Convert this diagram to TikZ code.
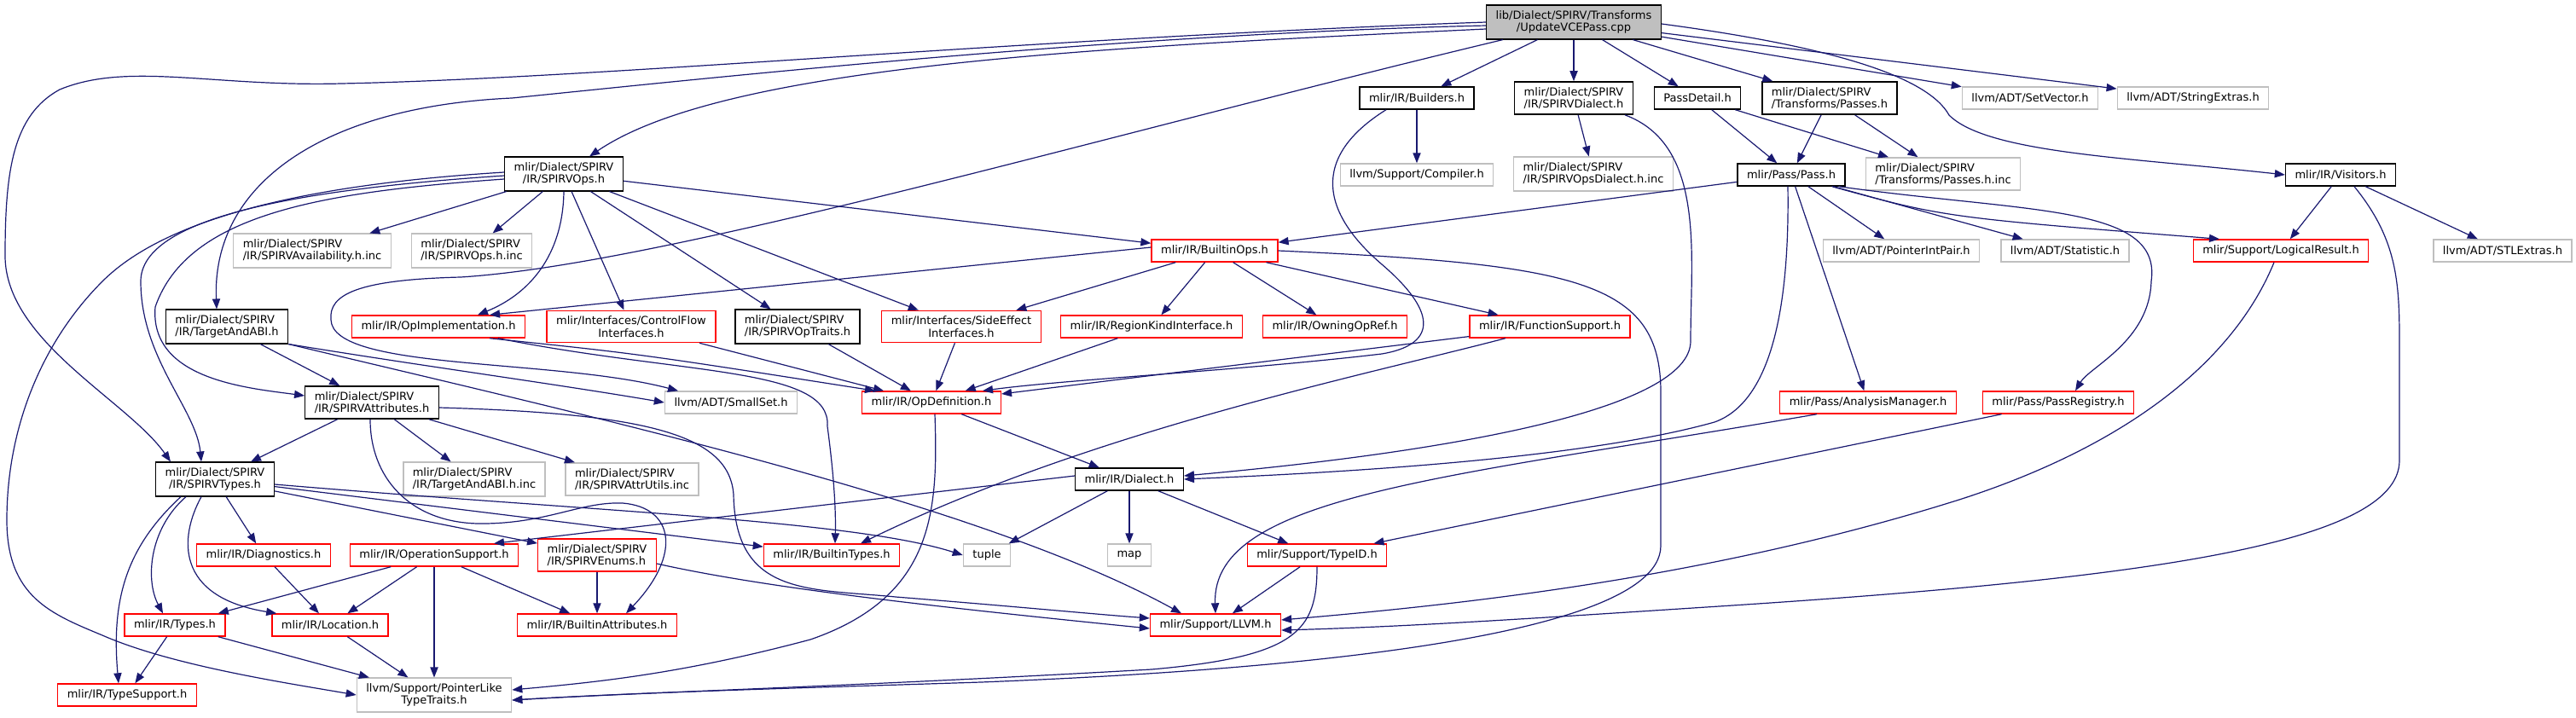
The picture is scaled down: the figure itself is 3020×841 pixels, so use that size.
\documentclass[tikz,border=0pt]{standalone}
\usepackage{fontspec}
\setmainfont{DejaVu Sans}
\usetikzlibrary{arrows.meta}
\definecolor{incblue}{RGB}{25,25,112}
\definecolor{nodoc}{RGB}{191,191,191}

\begin{document}
\begin{tikzpicture}[x=0.5pt, y=-0.5pt, >={Triangle[length=6pt,width=4.6pt]},
    every node/.style={font=\fontsize{6.5}{7.15}\selectfont, inner xsep=5.5pt, inner ysep=3.2pt,
      minimum height=13pt, align=left, fill=white, line width=0.7pt},
    hdr/.style={draw=black},
    trunc/.style={draw=red},
    undoc/.style={draw=nodoc},
    inc/.style={->, draw=incblue, line width=0.6pt}]
  \useasboundingbox (0,0) rectangle (3020,841);

  \node[hdr, fill=nodoc, align=center] (root) at (1845,26) {lib/Dialect/SPIRV/Transforms\\/UpdateVCEPass.cpp};

  \node[hdr] (builders) at (1661,115) {mlir/IR/Builders.h};
  \node[hdr] (spvdialect) at (1845,115) {mlir/Dialect/SPIRV\\/IR/SPIRVDialect.h};
  \node[hdr] (passdetail) at (1990,115) {PassDetail.h};
  \node[hdr] (passes) at (2145,115) {mlir/Dialect/SPIRV\\/Transforms/Passes.h};
  \node[undoc] (setvector) at (2380,115) {llvm/ADT/SetVector.h};
  \node[undoc] (strextras) at (2571,115) {llvm/ADT/StringExtras.h};

  \node[hdr, align=center] (spvops) at (661,204) {mlir/Dialect/SPIRV\\/IR/SPIRVOps.h};
  \node[undoc] (compiler) at (1661,205) {llvm/Support/Compiler.h};
  \node[undoc] (opsdialinc) at (1868,204) {mlir/Dialect/SPIRV\\/IR/SPIRVOpsDialect.h.inc};
  \node[hdr] (pass) at (2100,205) {mlir/Pass/Pass.h};
  \node[undoc] (passesinc) at (2278,204) {mlir/Dialect/SPIRV\\/Transforms/Passes.h.inc};
  \node[hdr] (visitors) at (2744,205) {mlir/IR/Visitors.h};

  \node[undoc] (availinc) at (366,294) {mlir/Dialect/SPIRV\\/IR/SPIRVAvailability.h.inc};
  \node[undoc] (opsinc) at (553,294) {mlir/Dialect/SPIRV\\/IR/SPIRVOps.h.inc};
  \node[trunc] (builtinops) at (1424,294) {mlir/IR/BuiltinOps.h};
  \node[undoc] (ptrintpair) at (2229,294) {llvm/ADT/PointerIntPair.h};
  \node[undoc] (statistic) at (2421,294) {llvm/ADT/Statistic.h};
  \node[trunc] (logicalres) at (2674,294) {mlir/Support/LogicalResult.h};
  \node[undoc] (stlextras) at (2934,294) {llvm/ADT/STLExtras.h};

  \node[hdr] (targetabi) at (266,383) {mlir/Dialect/SPIRV\\/IR/TargetAndABI.h};
  \node[trunc] (opimpl) at (514,383) {mlir/IR/OpImplementation.h};
  \node[trunc, align=center] (ctrlflow) at (740,383) {mlir/Interfaces/ControlFlow\\Interfaces.h};
  \node[hdr] (optraits) at (935,383) {mlir/Dialect/SPIRV\\/IR/SPIRVOpTraits.h};
  \node[trunc, align=center] (sideeffect) at (1127,383) {mlir/Interfaces/SideEffect\\Interfaces.h};
  \node[trunc] (regionkind) at (1350,383) {mlir/IR/RegionKindInterface.h};
  \node[trunc] (owningop) at (1565,383) {mlir/IR/OwningOpRef.h};
  \node[trunc] (funcsupport) at (1817,383) {mlir/IR/FunctionSupport.h};

  \node[hdr] (spvattrs) at (436,472) {mlir/Dialect/SPIRV\\/IR/SPIRVAttributes.h};
  \node[undoc] (smallset) at (857,472) {llvm/ADT/SmallSet.h};
  \node[trunc] (opdef) at (1092,472) {mlir/IR/OpDefinition.h};
  \node[trunc] (analysis) at (2190,472) {mlir/Pass/AnalysisManager.h};
  \node[trunc] (passreg) at (2413,472) {mlir/Pass/PassRegistry.h};

  \node[hdr, align=center] (spvtypes) at (252,562) {mlir/Dialect/SPIRV\\/IR/SPIRVTypes.h};
  \node[undoc] (abiinc) at (556,562) {mlir/Dialect/SPIRV\\/IR/TargetAndABI.h.inc};
  \node[undoc] (attrutils) at (741,562) {mlir/Dialect/SPIRV\\/IR/SPIRVAttrUtils.inc};
  \node[hdr] (dialect) at (1324,562) {mlir/IR/Dialect.h};

  \node[trunc] (diagnostics) at (309,651) {mlir/IR/Diagnostics.h};
  \node[trunc] (opsupport) at (509,651) {mlir/IR/OperationSupport.h};
  \node[trunc] (spvenums) at (700,651) {mlir/Dialect/SPIRV\\/IR/SPIRVEnums.h};
  \node[trunc] (builtintypes) at (975,651) {mlir/IR/BuiltinTypes.h};
  \node[undoc] (tuple) at (1157,651) {tuple};
  \node[undoc] (map) at (1324,651) {map};
  \node[trunc] (typeid) at (1544,651) {mlir/Support/TypeID.h};

  \node[trunc] (types) at (205,733) {mlir/IR/Types.h};
  \node[trunc] (location) at (387,733) {mlir/IR/Location.h};
  \node[trunc] (builtinattrs) at (700,733) {mlir/IR/BuiltinAttributes.h};
  \node[trunc] (llvmh) at (1425,733) {mlir/Support/LLVM.h};

  \node[trunc] (typesupport) at (149,815) {mlir/IR/TypeSupport.h};
  \node[undoc, align=center] (ptrlike) at (509,815) {llvm/Support/PointerLike\\TypeTraits.h};

  \draw[inc] (root.west) .. controls (1200,45) and (700,92) .. (400,98) .. controls (250,102) and (150,72) .. (70,105) .. controls (15,135) and (6,200) .. (6,300) .. controls (6,400) and (150,470) .. ([xshift=-26pt]spvtypes.north);
  \draw[inc] ([yshift=-2pt]root.west) .. controls (1300,40) and (800,95) .. (600,115) .. controls (380,125) and (248,215) .. ([xshift=-6pt]targetabi.north);
  \draw[inc] ([yshift=-4pt]root.west) .. controls (1300,55) and (850,75) .. ([xshift=15pt]spvops.north);
  \draw[inc] ([xshift=10pt]root.south west) .. controls (1300,157) and (780,310) .. (540,325) .. controls (420,328) and (385,345) .. (388,375) .. controls (390,435) and (650,420) .. ([xshift=-31pt]smallset.north);
  \draw[inc] (root) -- (builders);
  \draw[inc] (root) -- (spvdialect);
  \draw[inc] (root) -- (passdetail);
  \draw[inc] (root) -- (passes);
  \draw[inc] (root) -- (setvector);
  \draw[inc] (root) -- (strextras);
  \draw[inc] ([yshift=-1pt]root.east) .. controls (2150,55) and (2260,90) .. (2285,135) .. controls (2330,180) and (2500,185) .. (visitors.west);

  \draw[inc] (spvops) -- (availinc);
  \draw[inc] (spvops) -- (opsinc);
  \draw[inc] (spvops.south) .. controls (660,300) and (620,345) .. ([xshift=23pt]opimpl.north);
  \draw[inc] (spvops) -- (ctrlflow);
  \draw[inc] (spvops) -- (optraits);
  \draw[inc] (spvops) -- (sideeffect);
  \draw[inc] (spvops) -- (builtinops);
  \draw[inc] ([yshift=-1pt]spvops.west) .. controls (350,222) and (165,255) .. (165,330) .. controls (165,420) and (230,480) .. ([xshift=-8pt]spvtypes.north);
  \draw[inc] ([yshift=-3pt]spvops.west) .. controls (380,225) and (220,250) .. (182,360) .. controls (175,445) and (290,455) .. ([yshift=4pt]spvattrs.west);
  \draw[inc] ([yshift=1pt]spvops.west) .. controls (380,215) and (200,250) .. (120,330) .. controls (50,400) and (8,500) .. (8,610) .. controls (8,700) and (60,720) .. (120,745) .. controls (200,780) and (330,800) .. (ptrlike.west);

  \draw[inc] (targetabi) -- (spvattrs);
  \draw[inc] (targetabi.south east) .. controls (500,430) and (650,450) .. (smallset.west);
  \draw[inc] (targetabi.south east) .. controls (700,490) and (1150,590) .. ([xshift=-20pt]llvmh.north);

  \draw[inc] (spvattrs) -- (spvtypes);
  \draw[inc] (spvattrs) -- (abiinc);
  \draw[inc] (spvattrs) -- (attrutils);
  \draw[inc] ([xshift=-1pt]spvattrs.south) .. controls (434,560) and (480,612) .. (560,614) .. controls (640,615) and (680,588) .. (730,590) .. controls (790,595) and (800,650) .. ([xshift=17pt]builtinattrs.north);
  \draw[inc] ([yshift=-3pt]spvattrs.east) .. controls (760,485) and (855,510) .. (860,580) .. controls (862,700) and (950,690) .. (1050,700) .. controls (1200,712) and (1280,720) .. ([yshift=4pt]llvmh.west);

  \draw[inc] (spvtypes) -- (diagnostics);
  \draw[inc] ([xshift=-8pt]spvtypes.south) .. controls (210,630) and (205,700) .. ([xshift=3pt]location.north west);
  \draw[inc] ([xshift=-17pt]spvtypes.south) .. controls (175,620) and (170,680) .. ([xshift=-7pt]types.north);
  \draw[inc] ([xshift=-20pt]spvtypes.south) .. controls (150,640) and (130,700) .. ([xshift=-5pt]typesupport.north);
  \draw[inc] (spvtypes) -- (spvenums);
  \draw[inc] (spvtypes) -- (builtintypes);
  \draw[inc] ([yshift=-3pt]spvtypes.east) .. controls (700,600) and (1000,610) .. (tuple.west);

  \draw[inc] (diagnostics) -- (location);
  \draw[inc] (opsupport) -- (types);
  \draw[inc] (opsupport) -- (location);
  \draw[inc] (opsupport) -- (ptrlike);
  \draw[inc] (opsupport) -- (builtinattrs);
  \draw[inc] (spvenums) -- (builtinattrs);
  \draw[inc] ([yshift=-5pt]spvenums.east) .. controls (900,690) and (1100,712) .. ([yshift=-2pt]llvmh.west);
  \draw[inc] (types) -- (typesupport);
  \draw[inc] (types) -- (ptrlike);
  \draw[inc] (location) -- (ptrlike);

  \draw[inc] ([xshift=30pt]opimpl.south) .. controls (750,415) .. ([xshift=-33pt]opdef.north);
  \draw[inc] ([xshift=35pt]opimpl.south) .. controls (800,440) and (975,430) .. (970,500) .. controls (978,560) and (980,600) .. ([xshift=2pt]builtintypes.north);
  \draw[inc] ([xshift=40pt]ctrlflow.south) -- ([xshift=-28pt]opdef.north);
  \draw[inc] (optraits) -- (opdef);
  \draw[inc] (sideeffect) -- (opdef);
  \draw[inc] (regionkind) -- (opdef);
  \draw[inc] (funcsupport) -- (opdef);
  \draw[inc] (funcsupport) .. controls (1600,440) and (1280,505) .. ([xshift=17pt]builtintypes.north);

  \draw[inc] (builders) -- (compiler);
  \draw[inc] ([xshift=-18pt]builders.south) .. controls (1535,185) and (1550,250) .. (1620,310) .. controls (1690,370) and (1680,405) .. (1620,415) .. controls (1450,435) and (1250,445) .. ([xshift=30pt]opdef.north);

  \draw[inc] ([yshift=2pt]builtinops.west) -- ([xshift=30pt]opimpl.north);
  \draw[inc] (builtinops) -- (sideeffect);
  \draw[inc] (builtinops) -- (regionkind);
  \draw[inc] (builtinops) -- (owningop);
  \draw[inc] (builtinops) -- (funcsupport);
  \draw[inc] (builtinops.east) .. controls (1850,310) and (1947,330) .. (1947,460) -- (1947,640) .. controls (1947,760) and (1400,790) .. (1150,800) .. controls (900,808) and (750,812) .. ([yshift=-3pt]ptrlike.east);

  \draw[inc] (opdef) -- (dialect);
  \draw[inc] ([xshift=2pt]opdef.south) .. controls (1100,600) and (1095,700) .. (950,750) .. controls (800,790) and (700,800) .. ([yshift=3pt]ptrlike.east);
  \draw[inc] ([yshift=2pt]dialect.west) -- ([xshift=35pt]opsupport.north);
  \draw[inc] (dialect) -- (tuple);
  \draw[inc] (dialect) -- (map);
  \draw[inc] (dialect) -- (typeid);
  \draw[inc] (typeid) -- (llvmh);
  \draw[inc] (typeid.south) .. controls (1544,740) and (1520,770) .. (1350,785) .. controls (1000,805) and (750,812) .. ([yshift=-3pt]ptrlike.east);

  \draw[inc] (spvdialect) -- (opsdialinc);
  \draw[inc] ([xshift=-5pt]spvdialect.south east) .. controls (2000,170) and (1982,300) .. (1982,400) .. controls (1982,480) and (1700,530) .. ([yshift=2pt]dialect.east);
  \draw[inc] (passdetail) -- (pass);
  \draw[inc] (passdetail) -- (passesinc);
  \draw[inc] (passes) -- (pass);
  \draw[inc] (passes) -- (passesinc);

  \draw[inc] (pass) -- (builtinops);
  \draw[inc] ([xshift=-2pt]pass.south) .. controls (2098,350) and (2080,470) .. (2010,495) .. controls (1850,540) and (1550,555) .. (dialect.east);
  \draw[inc] (pass) -- (analysis);
  \draw[inc] (pass) -- (ptrintpair);
  \draw[inc] (pass) -- (statistic);
  \draw[inc] ([xshift=-8pt]pass.south east) .. controls (2280,255) .. ([xshift=-36pt]logicalres.north);
  \draw[inc] ([xshift=-4pt]pass.south east) .. controls (2380,250) and (2535,240) .. (2522,330) .. controls (2520,400) and (2450,430) .. ([xshift=10pt]passreg.north);

  \draw[inc] (visitors) -- (logicalres);
  \draw[inc] (visitors) -- (stlextras);
  \draw[inc] ([xshift=8pt]visitors.south) .. controls (2810,280) and (2813,330) .. (2813,400) -- (2813,540) .. controls (2813,640) and (2500,680) .. (2000,712) .. controls (1800,725) and (1650,735) .. ([yshift=-3pt]llvmh.east);
  \draw[inc] ([xshift=-4pt]logicalres.south) .. controls (2620,420) and (2500,520) .. (2300,585) .. controls (2000,680) and (1700,710) .. ([yshift=3pt]llvmh.east);
  \draw[inc] ([xshift=-30pt]analysis.south) .. controls (1700,560) and (1420,580) .. (llvmh.north);
  \draw[inc] (passreg) -- (typeid);
\end{tikzpicture}
\end{document}
